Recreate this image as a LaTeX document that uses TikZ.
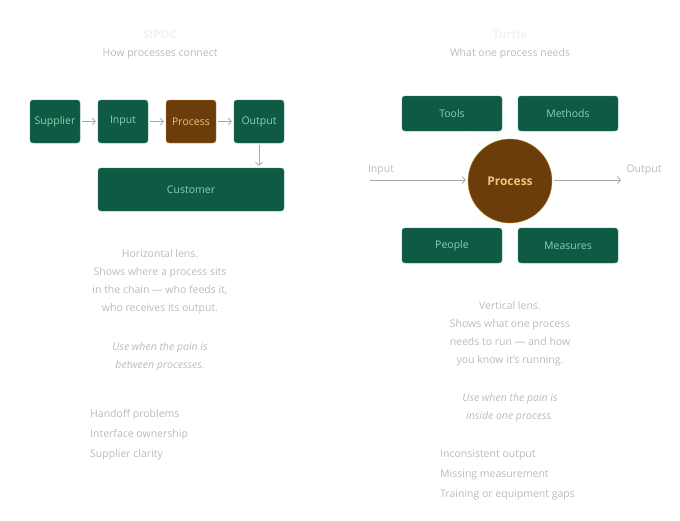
\documentclass[tikz,border=0pt]{standalone}
\usepackage{fontspec}
\setmainfont{Open Sans}
\usetikzlibrary{arrows.meta}
\definecolor{boxfill}{HTML}{0E5A45}
\definecolor{boxline}{HTML}{2E8A68}
\definecolor{boxtext}{HTML}{86D2B2}
\definecolor{procfill}{HTML}{6B3D0A}
\definecolor{procline}{HTML}{C4862C}
\definecolor{proctext}{HTML}{F0C47A}
\definecolor{muted}{HTML}{BBBBBB}
\definecolor{faint}{HTML}{F2F2F2}
\definecolor{arrowgray}{HTML}{A8A8A8}
\tikzset{
  box/.style={rectangle, rounded corners=3pt, fill=boxfill, draw=boxline, text=boxtext, font=\fontsize{10.5}{12}\selectfont, inner sep=0pt},
  proc/.style={box, fill=procfill, draw=procline, text=proctext},
  note/.style={text=muted, font=\fontsize{10.5}{18}\selectfont, align=center},
  item/.style={text=muted, font=\fontsize{10.5}{12}\selectfont, anchor=west, inner sep=0pt},
  flow/.style={-{Straight Barb[length=3pt,width=7pt]}, arrowgray, thick, shorten <=2pt, shorten >=2pt},
}
\begin{document}
\begin{tikzpicture}[x=1pt,y=-1pt]
\useasboundingbox (0,0) rectangle (680,520);

% SIPOC
\node[text=faint, font=\bfseries\fontsize{11.5}{13}\selectfont] (sipoc) at (160,34) {SIPOC};
\node[note] (sipocsub) at (160,54) {How processes connect};
\node[box, minimum width=50pt, minimum height=43pt] (sup) at (55,121.5) {Supplier};
\node[box, minimum width=50pt, minimum height=43pt] (inp) at (123,121.5) {Input};
\node[proc, minimum width=50pt, minimum height=43pt] (pro) at (191,121.5) {Process};
\node[box, minimum width=50pt, minimum height=43pt] (out) at (259,121.5) {Output};
\node[box, minimum width=186pt, minimum height=43pt] (cus) at (191,189.5) {Customer};
\draw[flow] (sup) -- (inp);
\draw[flow] (inp) -- (pro);
\draw[flow] (pro) -- (out);
\draw[flow] (out) -- (out |- cus.north);

\node[note] (hlens) at (160,282) {Horizontal lens.\\Shows where a process sits\\in the chain — who feeds it,\\who receives its output.};
\node[note, font=\itshape\fontsize{10.5}{18}\selectfont] (hwhen) at (160,356.5) {Use when the pain is\\between processes.};
\node[item] (h1) at (90,415) {Handoff problems};
\node[item] (h2) at (90,435) {Interface ownership};
\node[item] (h3) at (90,455) {Supplier clarity};

% Turtle
\node[text=faint, font=\bfseries\fontsize{11.5}{13}\selectfont] (turtle) at (510,34) {Turtle};
\node[note] (turtlesub) at (510,54) {What one process needs};
\node[circle, fill=procfill, draw=procline, text=proctext, font=\bfseries\fontsize{12}{14}\selectfont, minimum size=84pt, inner sep=0pt] (core) at (510,181) {Process};
\node[box, minimum width=100pt, minimum height=35pt] (tools) at (452,113.5) {Tools};
\node[box, minimum width=100pt, minimum height=35pt] (meth) at (568,113.5) {Methods};
\node[box, minimum width=100pt, minimum height=35pt] (ppl) at (452,245.5) {People};
\node[box, minimum width=100pt, minimum height=35pt] (meas) at (568,245.5) {Measures};
\foreach \b in {tools,meth,ppl,meas}
  \draw[white!94!gray] (\b) -- (core);
\node[text=muted, font=\fontsize{10.5}{12}\selectfont] (tin) at (381,170) {Input};
\node[text=muted, font=\fontsize{10.5}{12}\selectfont] (tout) at (644,170) {Output};
\coordinate (inl) at (370,180);
\coordinate (outr) at (621,180);
\draw[flow, shorten <=0pt] (inl) -- (core.west |- inl);
\draw[flow, shorten >=0pt] (core.east |- outr) -- (outr);

\node[note] (vlens) at (510,334) {Vertical lens.\\Shows what one process\\needs to run — and how\\you know it's running.};
\node[note, font=\itshape\fontsize{10.5}{18}\selectfont] (vwhen) at (510,408) {Use when the pain is\\inside one process.};
\node[item] (v1) at (440,455) {Inconsistent output};
\node[item] (v2) at (440,475) {Missing measurement};
\node[item] (v3) at (440,495) {Training or equipment gaps};
\end{tikzpicture}
\end{document}
